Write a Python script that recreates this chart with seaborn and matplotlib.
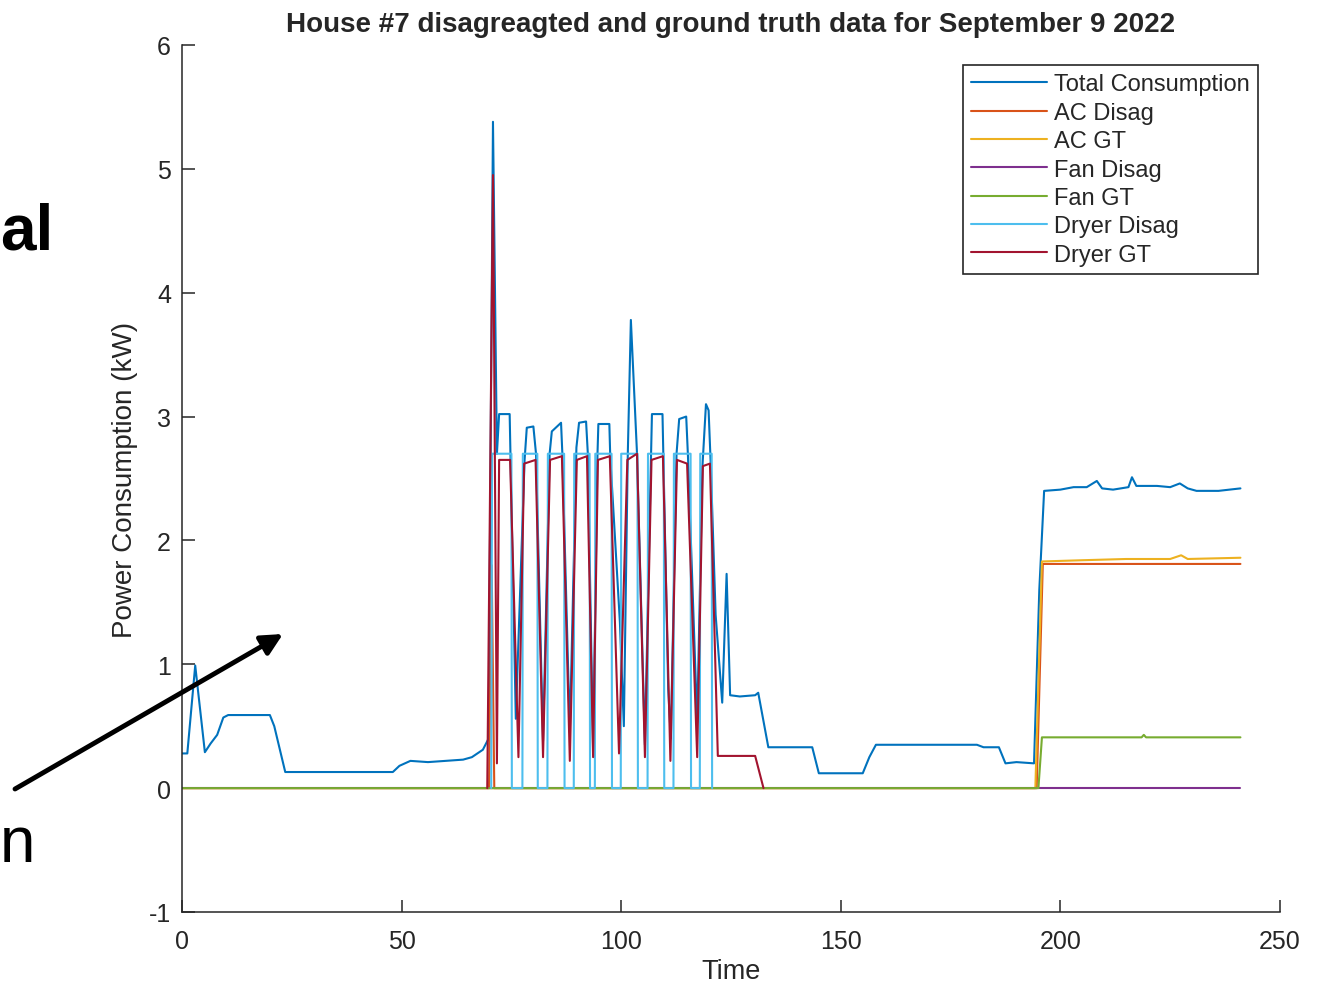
"""
House #7 NILM plot: disaggregated vs ground truth, September 9 2022.
"""
import matplotlib
matplotlib.use('Agg')  # headless
import matplotlib.pyplot as plt
import pandas as pd
import seaborn as sns

# --- data (kW vs time index) ---
total_t = [0, 1.2, 3.0, 5.2, 6.5, 8.0, 9.4, 10.5, 20.0, 21.0, 23.5, 48.0, 49.5, 52.0,
           56.0, 60.0, 64.0, 66.0, 68.5, 69.8, 70.8, 71.7, 72.2, 74.6, 74.8, 76.0, 78.0,
           78.5, 80.0, 80.6, 82.2, 83.7, 84.2, 86.3, 86.6, 88.3, 89.8, 90.4, 92.0, 92.4,
           93.6, 94.6, 94.8, 97.3, 97.5, 99.7, 100.6, 101.5, 102.2, 103.6, 105.4, 106.8,
           107.0, 109.4, 109.6, 110.7, 111.3, 112.6, 113.2, 114.8, 115.2, 117.3, 118.5,
           119.3, 119.9, 120.4, 121.5, 123.0, 124.0, 124.8, 127.0, 130.5, 131.2, 133.5,
           143.5, 145.0, 155.0, 156.5, 158.0, 170.0, 181.0, 182.5, 186.0, 187.5, 190.0,
           194.0, 195.2, 196.3, 200.0, 203.0, 206.0, 208.3, 209.5, 212.0, 215.5, 216.3,
           217.3, 222.0, 225.0, 227.2, 229.0, 231.0, 236.0, 241.0]
total_y = [0.28, 0.28, 0.99, 0.29, 0.36, 0.43, 0.57, 0.59, 0.59, 0.50, 0.13, 0.13, 0.18, 0.22,
           0.21, 0.22, 0.23, 0.25, 0.31, 0.40, 5.38, 2.70, 3.02, 3.02, 2.66, 0.56, 2.65,
           2.91, 2.92, 2.70, 0.38, 2.70, 2.88, 2.95, 2.70, 0.45, 2.75, 2.95, 2.96, 2.70,
           0.30, 2.70, 2.94, 2.94, 2.68, 1.34, 0.50, 2.70, 3.78, 2.70, 0.35, 2.70,
           3.02, 3.02, 2.68, 0.80, 0.40, 2.70, 2.98, 3.00, 2.68, 0.53, 2.60,
           3.10, 3.05, 2.60, 1.40, 0.69, 1.73, 0.75, 0.74, 0.75, 0.77, 0.33,
           0.33, 0.12, 0.12, 0.25, 0.35, 0.35, 0.35, 0.33, 0.33, 0.20, 0.21,
           0.20, 1.60, 2.40, 2.41, 2.43, 2.43, 2.48, 2.42, 2.41, 2.43, 2.51,
           2.44, 2.44, 2.43, 2.46, 2.42, 2.40, 2.40, 2.42]

ac_disag_t = [0, 69.9, 70.5, 71.1, 194.6, 196.0, 241]
ac_disag_y = [0, 0, 1.80, 0, 0, 1.81, 1.81]

ac_gt_t = [0, 194.3, 195.8, 205.0, 215.0, 225.0, 227.5, 229.0, 241]
ac_gt_y = [0, 0, 1.83, 1.84, 1.85, 1.85, 1.88, 1.85, 1.86]

fan_disag_t = [0, 241]
fan_disag_y = [0, 0]

fan_gt_t = [0, 195.0, 195.8, 218.5, 219.0, 219.5, 241]
fan_gt_y = [0, 0, 0.41, 0.41, 0.43, 0.41, 0.41]

dryer_disag_t = [70.4, 70.6, 75.0, 75.1, 77.5, 77.6, 80.9, 81.0, 83.2, 83.3, 87.0, 87.1,
                 89.2, 89.3, 92.8, 92.9, 94.0, 94.1, 97.8, 97.9, 99.9, 100.0, 103.7,
                 103.8, 106.0, 106.1, 109.7, 109.8, 111.9, 112.0, 115.8, 115.9, 117.9,
                 118.0, 120.6, 120.7]
dryer_disag_y = [0, 2.7, 2.7, 0, 0, 2.7, 2.7, 0, 0, 2.7, 2.7, 0,
                 0, 2.7, 2.7, 0, 0, 2.7, 2.7, 0, 0, 2.7, 2.7,
                 0, 0, 2.7, 2.7, 0, 0, 2.7, 2.7, 0, 0,
                 2.7, 2.7, 0]

dryer_gt_t = [69.5, 70.8, 71.7, 72.2, 74.7, 76.6, 77.9, 80.5, 82.2, 83.8, 86.5, 88.3,
              89.9, 92.2, 93.6, 94.7, 97.4, 99.5, 101.4, 103.6, 105.4, 106.9, 109.5,
              111.2, 112.7, 115.0, 117.3, 118.6, 120.2, 122.0, 130.5, 132.4]
dryer_gt_y = [0, 4.95, 0.20, 2.65, 2.65, 0.25, 2.62, 2.65, 0.25, 2.65, 2.68, 0.22,
              2.65, 2.68, 0.25, 2.65, 2.68, 0.28, 2.65, 2.70, 0.25, 2.65, 2.68,
              0.22, 2.65, 2.62, 0.25, 2.60, 2.62, 0.26, 0.26, 0]

SERIES = [
    ('Total Consumption', total_t, total_y),
    ('AC Disag', ac_disag_t, ac_disag_y),
    ('AC GT', ac_gt_t, ac_gt_y),
    ('Fan Disag', fan_disag_t, fan_disag_y),
    ('Fan GT', fan_gt_t, fan_gt_y),
    ('Dryer Disag', dryer_disag_t, dryer_disag_y),
    ('Dryer GT', dryer_gt_t, dryer_gt_y),
]
# MATLAB default line colours
COLORS = {'Total Consumption': '#0072BD', 'AC Disag': '#D95319',
          'AC GT': '#EDB120', 'Fan Disag': '#7E2F8E', 'Fan GT': '#77AC30',
          'Dryer Disag': '#4DBEEE', 'Dryer GT': '#A2142F'}

sns.set_style('ticks')
plt.rcParams['font.family'] = ['Liberation Sans', 'DejaVu Sans']
plt.rcParams['axes.unicode_minus'] = False
INK = '#262626'

df = pd.concat([pd.DataFrame({'Time': t, 'kW': y, 'series': name})
                for name, t, y in SERIES], ignore_index=True)

fig = plt.figure(figsize=(13.22, 9.87), dpi=100)
ax = fig.add_axes([0.1377, 0.075, 0.8305, 0.8784])
sns.lineplot(data=df, x='Time', y='kW', hue='series', palette=COLORS,
             hue_order=[s[0] for s in SERIES], estimator=None, sort=False,
             linewidth=1.5, ax=ax)

ax.set_xlim(0, 250)
ax.set_ylim(-1, 6)
ax.set_xticks(range(0, 251, 50))
ax.set_yticks(range(-1, 7))
sns.despine(ax=ax)
for side in ('left', 'bottom'):
    ax.spines[side].set_color(INK)
    ax.spines[side].set_linewidth(1.1)
ax.tick_params(direction='in', length=9, width=1.1, colors=INK, labelsize=18)
ax.tick_params(axis='y', pad=8)
ax.tick_params(axis='x', pad=12)

ax.set_title('House #7 disagreagted and ground truth data for September 9 2022',
             fontsize=20, fontweight='bold', pad=10)
ax.set_xlabel('Time', fontsize=19.5, color=INK, labelpad=4)
ax.set_ylabel('Power Consumption (kW)', fontsize=20, color=INK, labelpad=7.5)

handles, labels = ax.get_legend_handles_labels()
leg = ax.legend(handles, labels, loc='upper right', bbox_to_anchor=(0.980, 0.977),
                borderaxespad=0, frameon=True, fancybox=False, edgecolor=INK,
                framealpha=1, fontsize=17, handlelength=3.2, handletextpad=0.3,
                labelspacing=0.27, borderpad=0.36)
leg.get_frame().set_linewidth(1.2)

# slide leftovers around the chart
fig.text(0.0, 1 - 250 / 987, 'al', fontsize=46, fontweight='bold', color='black',
         va='baseline', ha='left')
fig.text(0.0, 1 - 862 / 987, 'n', fontsize=46, color='black',
         va='baseline', ha='left')
ax.annotate('', xy=(283, 987 - 635), xytext=(15, 987 - 790),
            xycoords='figure pixels', textcoords='figure pixels',
            annotation_clip=False,
            arrowprops=dict(arrowstyle='-|>', lw=3.5, color='black',
                            mutation_scale=32, shrinkA=0, shrinkB=0))

fig.savefig('out.png', dpi=100)
plt.close(fig)
